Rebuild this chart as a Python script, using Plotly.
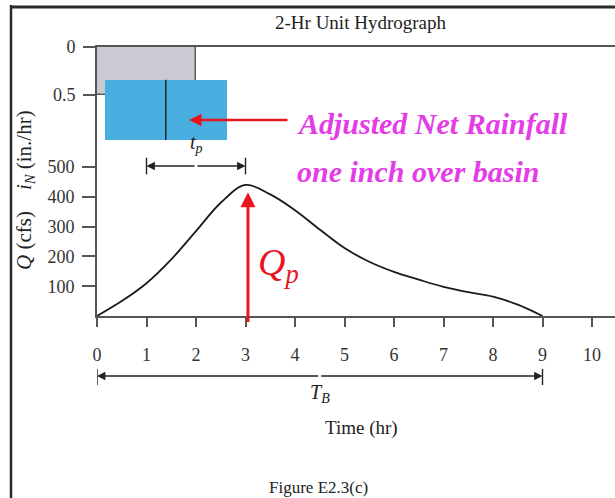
import plotly.graph_objects as go

# ---------------- data ----------------
hydro_t = [0, 0.5, 1, 1.5, 2, 2.5, 3, 3.5, 4, 4.5, 5, 5.5, 6, 6.5, 7, 7.5, 8, 8.5, 9]
hydro_q = [0, 50, 110, 190, 285, 380, 440, 408, 355, 290, 228, 182, 148, 122, 98, 80, 65, 38, 0]

gross_rain_span = [0, 2]        # hr
gross_rain_intensity = 0.5      # in./hr
net_rain_span = [0.16, 2.63]    # hr (illustrative box)
net_rain_levels = [0.34, 0.97]  # in./hr (illustrative box)
net_rain_centroid = 1.39        # hr
rain_centroid = 1.0             # hr (start of tp)
peak_time = 3.0                 # hr
peak_q = 440                    # cfs
base_time = 9.0                 # hr

x_ticks = [0, 1, 2, 3, 4, 5, 6, 7, 8, 9, 10]
q_ticks = [100, 200, 300, 400, 500]
i_ticks = [0, 0.5]
i_tick_text = ["0", "0.5"]

# ---------------- geometry helpers ----------------
W, H = 615, 498
L, R, T, B = 97, 0, 47, 182
PW, PH = W - L - R, H - T - B
X_MAX = PW / 49.5
Q_MAX = PH / 0.298
I_MAX = PH / 96.0


def pxx(xp):
    return (xp - L) / PW


def pxy(yp):
    return (H - B - yp) / PH


SERIF = "Liberation Serif, Times New Roman, serif"
RED = "#e8141e"
MAGENTA = "#e43de6"
AX = "#555555"

fig = go.Figure()

# gross rainfall bar (hyetograph)
fig.add_trace(go.Bar(
    x=[(gross_rain_span[0] + gross_rain_span[1]) / 2],
    y=[gross_rain_intensity], base=[0],
    width=[gross_rain_span[1] - gross_rain_span[0]],
    yaxis="y2", marker=dict(color="#c9cad3", line=dict(color="#5a5a5a", width=1.5)),
    showlegend=False, hoverinfo="skip"))

# adjusted net rainfall box
fig.add_trace(go.Bar(
    x=[(net_rain_span[0] + net_rain_span[1]) / 2],
    y=[net_rain_levels[1] - net_rain_levels[0]], base=[net_rain_levels[0]],
    width=[net_rain_span[1] - net_rain_span[0]],
    yaxis="y2", marker=dict(color="#49aee0", line=dict(width=0)),
    showlegend=False, hoverinfo="skip"))

fig.add_trace(go.Scatter(
    x=[net_rain_centroid, net_rain_centroid], y=net_rain_levels, yaxis="y2",
    mode="lines", line=dict(color="#111", width=1.3), showlegend=False, hoverinfo="skip"))

# hydrograph
fig.add_trace(go.Scatter(
    x=hydro_t, y=hydro_q, mode="lines",
    line=dict(color="#1a1a1a", width=1.8, shape="spline", smoothing=1.0),
    showlegend=False, hoverinfo="skip"))

annotations = []
shapes = []


def label(text, xp, yp, size, color="#222", xanchor="center", angle=0):
    annotations.append(dict(text=text, xref="paper", yref="paper",
                            x=pxx(xp), y=pxy(yp), xanchor=xanchor, yanchor="middle",
                            textangle=angle, showarrow=False,
                            font=dict(family=SERIF, size=size, color=color)))


# frame: top edge and left edge
shapes.append(dict(type="line", xref="paper", yref="paper",
                   x0=pxx(10), x1=pxx(W), y0=pxy(7), y1=pxy(7),
                   line=dict(color="#2a2a2a", width=3), layer="above"))
shapes.append(dict(type="line", xref="paper", yref="paper",
                   x0=pxx(11), x1=pxx(11), y0=pxy(5), y1=pxy(H),
                   line=dict(color="#2a2a2a", width=2.5), layer="above"))

label("2-Hr Unit Hydrograph", 360, 23, 19)
label("<i>Q</i> (cfs)\u00a0\u00a0\u00a0\u00a0<i>i<sub>N</sub></i> (in./hr)", 25, 190, 21, angle=-90)

# adjusted net rainfall text + arrow
label("<b><i>Adjusted Net Rainfall</i></b>", 295, 123, 30, MAGENTA, xanchor="left")
label("<b><i>one inch over basin</i></b>", 295, 171, 30, MAGENTA, xanchor="left")
annotations.append(dict(text="", xref="x", yref="y2",
                        x=(189 - L) / 49.5, y=(120 - T) / 96.0,
                        axref="pixel", ayref="pixel", ax=100, ay=0,
                        showarrow=True, arrowhead=2, arrowsize=1, arrowwidth=2.5,
                        arrowcolor=RED))

# tp double arrow
tp_mid = (rain_centroid + peak_time) / 2
tp_level = (H - B - 166) / 0.298
for head in (rain_centroid, peak_time):
    annotations.append(dict(text="", xref="x", yref="y", x=head, y=tp_level,
                            axref="x", ayref="y", ax=tp_mid, ay=tp_level,
                            showarrow=True, arrowhead=2, arrowsize=1.2, arrowwidth=1.4,
                            arrowcolor="#222"))
    shapes.append(dict(type="line", xref="x", yref="y", x0=head, x1=head,
                       y0=tp_level - 28, y1=tp_level + 28,
                       line=dict(color="#222", width=1.4)))
annotations.append(dict(text="<i>t<sub>p</sub></i>", xref="x", yref="paper",
                        x=tp_mid, y=pxy(143), xanchor="center", yanchor="middle",
                        showarrow=False, font=dict(family=SERIF, size=20, color="#222")))

# Qp arrow
annotations.append(dict(text="", xref="x", yref="y", x=peak_time + 0.05, y=peak_q - 25,
                        axref="x", ayref="y", ax=peak_time + 0.05, ay=-25,
                        showarrow=True, arrowhead=2, arrowsize=1, arrowwidth=3,
                        arrowcolor=RED))
label("<i>Q<sub>p</sub></i>", 256, 265, 38, RED, xanchor="left")

# TB double arrow
tb_y = pxy(376)
tb_mid = base_time / 2
for head in (0, base_time):
    annotations.append(dict(text="", xref="x", yref="paper", x=head, y=tb_y,
                            axref="x", ayref="pixel", ax=tb_mid, ay=0,
                            showarrow=True, arrowhead=2, arrowsize=1.2, arrowwidth=1.4,
                            arrowcolor="#222"))
    shapes.append(dict(type="line", xref="x", yref="paper", x0=head, x1=head,
                       y0=pxy(369), y1=pxy(385), line=dict(color="#222", width=1.4)))
label("<i>T<sub>B</sub></i>", 320, 393, 20)
label("Time (hr)", 361, 428, 19)
label("Figure E2.3(c)", 318, 487, 17)

fig.update_layout(
    width=W, height=H, autosize=False,
    margin=dict(l=L, r=R, t=T, b=B, pad=0),
    paper_bgcolor="white", plot_bgcolor="white",
    barmode="overlay", bargap=0,
    showlegend=False,
    xaxis=dict(range=[0, X_MAX], tickvals=x_ticks, ticks="outside", ticklen=9,
               tickwidth=1.5, tickcolor=AX, showline=True, linecolor=AX, linewidth=2,
               mirror=True, showgrid=False, zeroline=False, ticklabelstandoff=12,
               tickfont=dict(family=SERIF, size=18, color="#333")),
    yaxis=dict(range=[0, Q_MAX], tickvals=q_ticks, ticks="outside", ticklen=13,
               tickwidth=1.5, tickcolor=AX, showline=True, linecolor=AX, linewidth=2,
               showgrid=False, zeroline=False, ticklabelstandoff=4,
               tickfont=dict(family=SERIF, size=18, color="#333")),
    yaxis2=dict(range=[I_MAX, 0], overlaying="y", side="left", anchor="x",
                tickvals=i_ticks, ticktext=i_tick_text, ticks="outside", ticklen=13,
                tickwidth=1.5, tickcolor=AX, showline=False, showgrid=False,
                zeroline=False, ticklabelstandoff=4,
                tickfont=dict(family=SERIF, size=18, color="#333")),
    annotations=annotations,
    shapes=shapes,
)

fig.write_html("out.html", config={"displayModeBar": False},
               post_script="document.body.style.margin='0';document.body.style.overflow='hidden';")
